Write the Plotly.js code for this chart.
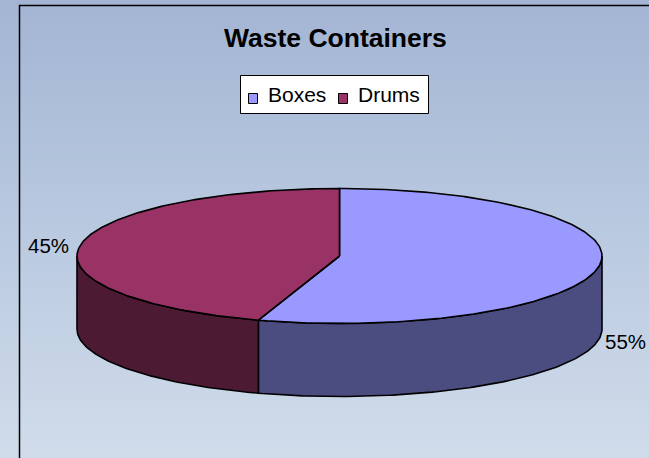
<!DOCTYPE html>
<html>
<head>
<meta charset="utf-8">
<script src="https://cdn.plot.ly/plotly-3.0.1.min.js"></script>
<style>
html,body{margin:0;padding:0;}
body{width:649px;height:458px;overflow:hidden;background:linear-gradient(to bottom,#a3b5d3 0%,#b9c9e0 50%,#d0dcea 100%);}
#chart{width:649px;height:458px;}
</style>
</head>
<body>
<div id="chart"></div>
<script>
// ---- data ----
const labels = ['Boxes', 'Drums'];
const values = [55, 45];
const topColors = ['#9999ff', '#993366'];
const sideColors = ['#4b4c7f', '#4d1a33'];
const chartTitle = 'Waste Containers';

// ---- geometry (pixel space) ----
const W = 649, H = 458;
const cx = 339.5, cy = 256, rx = 262.5, ry = 67.5, depth = 73;
const FONT = 'Arial, Liberation Sans, sans-serif';
const total = values.reduce((a, b) => a + b, 0);
const rad = d => d * Math.PI / 180;
function pt(t, dz) { return [cx + rx * Math.sin(rad(t)), cy - ry * Math.cos(rad(t)) + dz]; }
function arc(a1, a2, dz) {
  const n = Math.max(2, Math.ceil(Math.abs(a2 - a1)));
  const xs = [], ys = [];
  for (let i = 0; i <= n; i++) { const p = pt(a1 + (a2 - a1) * i / n, dz); xs.push(p[0]); ys.push(p[1]); }
  return [xs, ys];
}

const sideTraces = [], topTraces = [];
const annotations = [];
const shapes = [];
let start = 0;
values.forEach((v, i) => {
  const sweep = v / total * 360;
  const a1 = start, a2 = start + sweep;
  // visible side wall (front half: 90..270 deg clockwise from top)
  const s1 = Math.max(a1, 90), s2 = Math.min(a2, 270);
  if (s1 < s2) {
    const [tx, ty] = arc(s1, s2, 0);
    const [bx, by] = arc(s2, s1, depth);
    sideTraces.push({
      x: tx.concat(bx, [tx[0]]), y: ty.concat(by, [ty[0]]),
      mode: 'lines', fill: 'toself', fillcolor: sideColors[i], name: labels[i],
      line: { color: '#000', width: 1.6 }, showlegend: false, hoverinfo: 'skip'
    });
  }
  // top face
  const [ax, ay] = arc(a1, a2, 0);
  topTraces.push({
    x: [cx].concat(ax, [cx]), y: [cy].concat(ay, [cy]),
    mode: 'lines', fill: 'toself', fillcolor: topColors[i], name: labels[i],
    line: { color: '#000', width: 1.6 }, showlegend: false, hoverinfo: 'skip'
  });
  // percentage label
  const mid = (a1 + a2) / 2;
  const p = pt(mid, 0);
  const front = Math.cos(rad(mid)) < 0;
  const right = Math.sin(rad(mid)) >= 0;
  annotations.push({
    x: p[0] + (right ? 4 : -9), y: p[1] + (front ? depth + 2 : 0),
    xref: 'x', yref: 'y', showarrow: false,
    text: Math.round(v / total * 100) + '%',
    xanchor: right ? 'left' : 'right', yanchor: 'middle',
    font: { family: FONT, size: 20.5, color: '#000' }
  });
  start = a2;
});

// ---- legend (drawn as a boxed key) ----
const legBox = { x0: 240, y0: 75, x1: 429, y1: 114 };
const legItemX = [248, 338];
shapes.push({
  type: 'rect', xref: 'x', yref: 'y', x0: legBox.x0 + 0.5, y0: legBox.y0 + 0.5, x1: legBox.x1 - 0.5, y1: legBox.y1 - 0.5,
  line: { color: '#000', width: 1 }, fillcolor: '#ffffff', layer: 'above'
});
labels.forEach((l, i) => {
  shapes.push({
    type: 'rect', xref: 'x', yref: 'y', x0: legItemX[i] + 0.5, y0: 93.5, x1: legItemX[i] + 9.5, y1: 103.5,
    line: { color: '#000', width: 1 }, fillcolor: topColors[i], layer: 'above'
  });
  annotations.push({
    x: legItemX[i] + 18, y: 94.5, xref: 'x', yref: 'y', showarrow: false,
    text: l, xanchor: 'left', yanchor: 'middle',
    font: { family: FONT, size: 21, color: '#000' }
  });
});

// title
annotations.push({
  x: 335.5, y: 37.5, xref: 'x', yref: 'y', showarrow: false,
  text: '<b>' + chartTitle + '</b>', xanchor: 'center', yanchor: 'middle',
  font: { family: FONT, size: 26.5, color: '#000' }
});

// chart-area frame
shapes.push({
  type: 'rect', xref: 'x', yref: 'y', x0: 19.5, y0: 5.5, x1: 720, y1: 520,
  line: { color: '#000', width: 1.5 }, fillcolor: 'rgba(0,0,0,0)', layer: 'below'
});

const data = sideTraces.concat(topTraces);

const layout = {
  width: W, height: H,
  margin: { l: 0, r: 0, t: 0, b: 0, pad: 0 },
  paper_bgcolor: 'rgba(0,0,0,0)', plot_bgcolor: 'rgba(0,0,0,0)',
  xaxis: { range: [0, W], visible: false, fixedrange: true },
  yaxis: { range: [H, 0], visible: false, fixedrange: true },
  showlegend: false,
  shapes: shapes,
  annotations: annotations,
  hovermode: false
};

Plotly.newPlot('chart', data, layout, { staticPlot: true, displayModeBar: false });
</script>
</body>
</html>
